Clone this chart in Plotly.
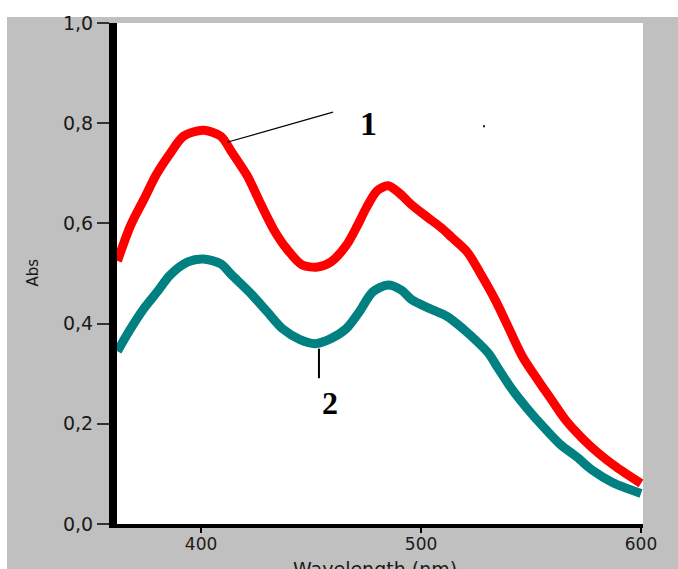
import plotly.graph_objects as go

# ---- data ----
wl_1 = [362, 368, 374, 380, 386, 392, 401, 409, 414, 421, 427, 433, 439, 446,
        453, 459, 466, 471, 475, 480, 485, 490, 496, 503, 509, 514, 521, 527,
        534, 540, 546, 553, 559, 566, 574, 581, 589, 600]
abs_1 = [0.525, 0.596, 0.648, 0.700, 0.740, 0.774, 0.786, 0.774, 0.742, 0.695,
         0.640, 0.588, 0.549, 0.517, 0.513, 0.523, 0.556, 0.595, 0.630, 0.665,
         0.675, 0.661, 0.636, 0.612, 0.592, 0.572, 0.543, 0.500, 0.445, 0.390,
         0.335, 0.288, 0.250, 0.206, 0.168, 0.140, 0.113, 0.081]

wl_2 = [362, 368, 374, 380, 386, 394, 401, 409, 414, 422, 430, 437, 445, 452,
        459, 466, 472, 478, 485, 491, 496, 504, 512, 519, 526, 531, 535, 541,
        548, 556, 563, 571, 578, 587, 600]
abs_2 = [0.345, 0.390, 0.430, 0.463, 0.497, 0.523, 0.529, 0.519, 0.497, 0.463,
         0.424, 0.390, 0.368, 0.360, 0.370, 0.390, 0.424, 0.463, 0.477, 0.467,
         0.447, 0.430, 0.414, 0.390, 0.362, 0.339, 0.311, 0.271, 0.232, 0.192,
         0.160, 0.133, 0.107, 0.083, 0.061]

x_tickvals = [400, 500, 600]
x_ticktext = ["400", "500", "600"]
y_tickvals = [0.0, 0.2, 0.4, 0.6, 0.8, 1.0]
y_ticktext = ["0,0", "0,2", "0,4", "0,6", "0,8", "1,0"]

x_title = "Wavelength (nm)"
y_title = "Abs"
labels = ["1", "2"]

RED = "#FF0000"
TEAL = "#008080"
GREY = "#C0C0C0"
YTICKFONT = dict(family="DejaVu Sans", size=19, color="#1a1a1a")
XTICKFONT = dict(family="DejaVu Sans", size=17, color="#1a1a1a")

fig = go.Figure()
fig.add_trace(go.Scatter(x=wl_1, y=abs_1, mode="lines",
                         line=dict(color=RED, width=9, shape="spline", smoothing=0.8),
                         showlegend=False))
fig.add_trace(go.Scatter(x=wl_2, y=abs_2, mode="lines",
                         line=dict(color=TEAL, width=9, shape="spline", smoothing=0.8),
                         showlegend=False))

fig.update_layout(
    width=678, height=569,
    margin=dict(l=117, r=35, t=19, b=45),
    paper_bgcolor=GREY,
    plot_bgcolor="white",
    showlegend=False,
    xaxis=dict(range=[361.8, 600.9], tickvals=x_tickvals, ticktext=x_ticktext,
               showgrid=False, zeroline=False, showline=True, linecolor="black",
               linewidth=4, ticks="outside", ticklen=5, tickwidth=2,
               tickcolor="black", tickfont=XTICKFONT, ticklabelstandoff=-3),
    yaxis=dict(range=[0, 1], tickvals=y_tickvals, ticktext=y_ticktext,
               showgrid=False, zeroline=False, showline=True, linecolor="black",
               linewidth=8, ticks="outside", ticklen=12, tickwidth=1.5,
               tickcolor="#333333", tickfont=YTICKFONT),
)

# white strips at the top and left of the image
fig.add_shape(type="rect", xref="paper", yref="paper", x0=-0.3, x1=1.2,
              y0=1.0119, y1=1.2, fillcolor="white", line_width=0, layer="below")
fig.add_shape(type="rect", xref="paper", yref="paper", x0=-0.3, x1=-0.2091,
              y0=-0.3, y1=1.2, fillcolor="white", line_width=0, layer="below")

# axis titles
fig.add_annotation(xref="paper", yref="paper", x=0.49, y=-0.064, yanchor="top",
                   xanchor="center", text=x_title, showarrow=False,
                   font=dict(family="DejaVu Sans", size=19, color="#1a1a1a"))
fig.add_annotation(xref="paper", yref="paper", x=-0.1606, y=0.501, textangle=-90,
                   xanchor="center", yanchor="middle",
                   text=y_title, showarrow=False,
                   font=dict(family="DejaVu Sans", size=15, color="#1a1a1a"))

# curve labels with leader lines
fig.add_shape(type="line", x0=411.8, y0=0.762, x1=460, y1=0.822,
              line=dict(color="black", width=1.2))
fig.add_annotation(x=475.9, y=0.80, text="<b>" + labels[0] + "</b>", showarrow=False,
                   font=dict(family="Liberation Serif", size=34, color="black"))
fig.add_shape(type="line", x0=453.6, y0=0.35, x1=453.6, y1=0.291,
              line=dict(color="black", width=2))
fig.add_annotation(x=458.6, y=0.242, text="<b>" + labels[1] + "</b>", showarrow=False,
                   font=dict(family="Liberation Serif", size=32, color="black"))
# small speck
fig.add_shape(type="rect", x0=528.2, x1=529.0, y0=0.792, y1=0.796,
              fillcolor="black", line_width=0)

fig.write_html("out.html")
